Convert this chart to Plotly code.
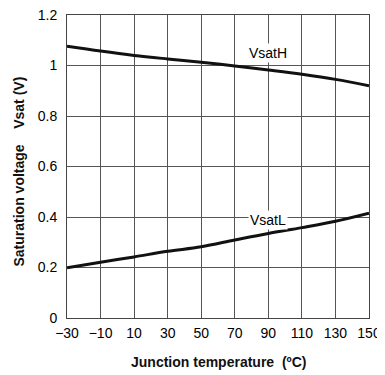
import plotly.graph_objects as go

temps = [-30, -10, 10, 30, 50, 70, 90, 110, 130, 150]
vsat_h = [1.076, 1.057, 1.040, 1.026, 1.013, 0.998, 0.982, 0.965, 0.945, 0.920]
vsat_l = [0.199, 0.221, 0.242, 0.264, 0.282, 0.309, 0.335, 0.358, 0.383, 0.415]
x_ticks = [-30, -10, 10, 30, 50, 70, 90, 110, 130, 150]
x_tick_text = ["\u221230", "\u221210", "10", "30", "50", "70", "90", "110", "130", "150"]
y_ticks = [0, 0.2, 0.4, 0.6, 0.8, 1.0, 1.2]
y_tick_text = ["0", "0.2", "0.4", "0.6", "0.8", "1", "1.2"]

fig = go.Figure()
fig.add_trace(go.Scatter(x=temps, y=vsat_h, mode="lines", line=dict(color="#111", width=3, shape="spline"), name="VsatH"))
fig.add_trace(go.Scatter(x=temps, y=vsat_l, mode="lines", line=dict(color="#111", width=3, shape="spline"), name="VsatL"))

font_family = "Liberation Sans"
tick_font = dict(size=14, family=font_family, color="#000")
# page body has an 8px default margin, so the figure is sized to fill the rest of the window
fig.update_layout(
    width=377, height=367,
    margin=dict(l=59, r=16, t=7, b=57),
    paper_bgcolor="white", plot_bgcolor="white",
    showlegend=False,
    font=dict(family=font_family, color="#111", size=14),
)
fig.update_xaxes(
    range=[-30, 150], tickvals=x_ticks, ticktext=x_tick_text,
    showgrid=True, gridcolor="#555", gridwidth=1,
    showline=True, linecolor="#444", linewidth=1, mirror=True,
    zeroline=False, ticks="", ticklabelstandoff=2, automargin=False,
    ticklabeloverflow="allow", tickfont=tick_font,
)
fig.update_yaxes(
    range=[0, 1.2], tickvals=y_ticks, ticktext=y_tick_text,
    showgrid=True, gridcolor="#555", gridwidth=1,
    showline=True, linecolor="#444", linewidth=1, mirror=True,
    zeroline=False, ticks="", ticklabelstandoff=6, automargin=False,
    ticklabeloverflow="allow", tickfont=tick_font,
)

fig.add_annotation(x=90, y=1.05, text="VsatH", showarrow=False, bgcolor="white",
                   font=tick_font, borderpad=1)
fig.add_annotation(x=90, y=0.39, text="VsatL", showarrow=False, bgcolor="white",
                   font=tick_font, borderpad=1)

fig.add_annotation(xref="paper", yref="paper", x=0.5, y=0, yshift=-44, xshift=0,
                   text="<b>Junction temperature\u00a0\u00a0(\u00baC)</b>", showarrow=False,
                   yanchor="middle", font=dict(size=14, family=font_family, color="#111"))
fig.add_annotation(xref="paper", yref="paper", x=0, y=0.5, xshift=-49, yshift=-5,
                   text="<b>Saturation voltage\u00a0\u00a0\u00a0\u00a0Vsat (V)</b>", showarrow=False,
                   textangle=-90, xanchor="center", font=dict(size=14, family=font_family, color="#111"))

fig.write_html("out.html")
